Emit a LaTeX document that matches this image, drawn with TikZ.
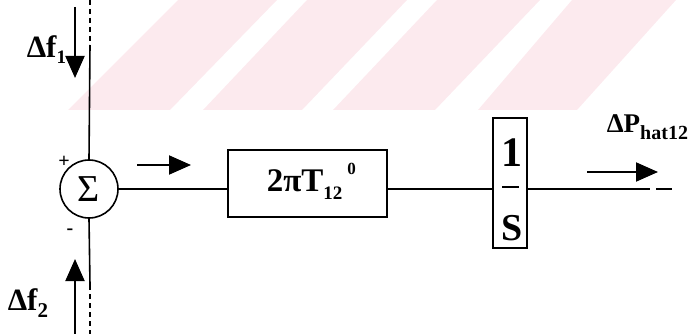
\documentclass[tikz,border=0pt]{standalone}
\usepackage{fontspec}
\setmainfont{Liberation Serif}
\usetikzlibrary{arrows.meta}
\definecolor{wmpink}{RGB}{252,234,238}

\begin{document}
\begin{tikzpicture}[x=1pt,y=-1pt,line width=1.6pt,
  sig/.style={-{Triangle[length=22pt,width=19pt]},line width=2pt},
  blockbox/.style={draw,rectangle,inner sep=0pt,line width=1.6pt},
  lbl/.style={inner sep=0pt,font=\bfseries\fontsize{31}{31}\selectfont},
  sgn/.style={inner sep=0pt,font=\bfseries\fontsize{20}{20}\selectfont},
  dashline/.style={dash pattern=on 5pt off 4pt}]
\useasboundingbox (0,0) rectangle (688,334);

% pale diagonal stripes along the top
\fill[wmpink] (68,110) -- (170,110) -- (277,0) -- (178,0) -- cycle;
\fill[wmpink] (203,110) -- (302,110) -- (407,0) -- (307,0) -- cycle;
\fill[wmpink] (333,110) -- (435,110) -- (540,0) -- (437,0) -- cycle;
\fill[wmpink] (478,110) -- (577,110) -- (676,0) -- (572,0) -- cycle;

% summing junction
\node[draw,circle,minimum size=58pt,inner sep=0pt,line width=1.6pt,
      font=\fontsize{38}{38}\selectfont] (sum) at (89,189) {Σ};
\node[sgn] (plus) at (64,162) {+};
\node[sgn] (minus) at (70,232) {-};

% vertical tie line through the junction
\coordinate (vtop) at (90,0);
\coordinate (vtopd) at (90,45);
\coordinate (vbotd) at (90,285);
\coordinate (vbot) at (90,334);
\draw[dashline] (vtop) -- (vtopd);
\draw (vtopd) -- (sum.north);
\draw (sum.south) -- (vbotd);
\draw[dashline] (vbotd) -- (vbot);

% input labels and arrows
\node[lbl,anchor=base west] (df1) at (26,58)
  {Δf\raisebox{-6pt}{\fontsize{19}{19}\selectfont 1}};
\node[lbl,anchor=base west] (df2) at (7,310)
  {Δf\raisebox{-7pt}{\fontsize{21}{21}\selectfont 2}};
\coordinate (in1s) at (75,7);
\coordinate (in1e) at (75,78);
\coordinate (in2s) at (75,334);
\coordinate (in2e) at (75,259);
\draw[sig] (in1s) -- (in1e);
\draw[sig] (in2s) -- (in2e);

% gain block
\node[blockbox,minimum width=159pt,minimum height=67pt] (gain) at (307.5,183.5) {};
\node[inner sep=0pt,anchor=base west,font=\bfseries] (gaintxt) at (266,191)
  {\fontsize{33}{33}\selectfont 2πT\fontsize{19}{19}\selectfont\raisebox{-8pt}{12}\hspace{5pt}\raisebox{17pt}{\fontsize{17}{17}\selectfont 0}};

% integrator block
\node[blockbox,minimum width=34pt,minimum height=130pt] (integ) at (510,183) {};
\node[inner sep=0pt,anchor=base,font=\bfseries\fontsize{42}{42}\selectfont] (one) at (512,167) {1};
\node[inner sep=0pt,anchor=base,font=\bfseries\fontsize{38}{38}\selectfont] (ess) at (512,240) {S};
\coordinate (barl) at (502,187);
\coordinate (barr) at (519,187);
\draw (barl) -- (barr);

% signal path
\coordinate (outa) at (650,189);
\coordinate (outb) at (656,189);
\coordinate (outc) at (672,189);
\draw (sum.east) -- (sum.east -| gain.west);
\draw (gain.east |- sum.east) -- (integ.west |- sum.east);
\draw (integ.east |- sum.east) -- (outa);
\draw (outb) -- (outc);

% flow arrows
\coordinate (f1s) at (137,165);
\coordinate (f1e) at (191,165);
\draw[sig] (f1s) -- (f1e);
\coordinate (f2s) at (587,172);
\coordinate (f2e) at (658,172);
\draw[sig] (f2s) -- (f2e);

% output label
\node[inner sep=0pt,anchor=base west,font=\bfseries] (dp) at (606,133)
  {\fontsize{27}{27}\selectfont ΔP\fontsize{20}{20}\selectfont\raisebox{-6pt}{hat12}};
\end{tikzpicture}
\end{document}
